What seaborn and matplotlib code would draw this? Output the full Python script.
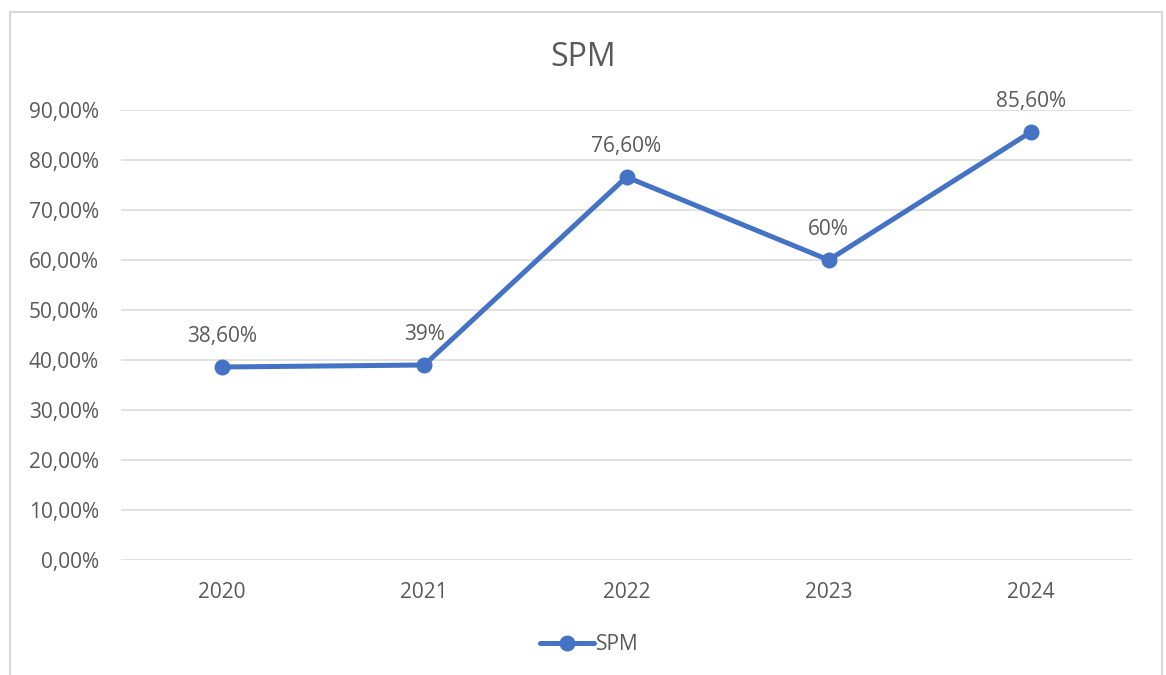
import matplotlib
matplotlib.use("Agg")
import matplotlib.pyplot as plt
import matplotlib.patches as mpatches
from matplotlib.lines import Line2D
from matplotlib.ticker import FuncFormatter, MultipleLocator
import seaborn as sns
import pandas as pd

years = ["2020", "2021", "2022", "2023", "2024"]
values = [38.6, 39.0, 76.6, 60.0, 85.6]
point_labels = ["38,60%", "39%", "76,60%", "60%", "85,60%"]
series_name = "SPM"
title = "SPM"

sns.set_theme(style="white")
plt.rcParams["font.family"] = ["Open Sans", "DejaVu Sans"]

TEXT = "#595959"
GRID = "#D9D9D9"
LINE = "#4472C4"

fig = plt.figure(figsize=(11.66, 6.75), dpi=100)
ax = fig.add_axes([121 / 1166, 1 - 560 / 675, (1132 - 121) / 1166, 450 / 675])

df = pd.DataFrame({"year": years, "value": values})
sns.lineplot(data=df, x="year", y="value", ax=ax, color=LINE, linewidth=3.6,
             marker="o", markersize=11.5, markeredgewidth=0, sort=False, legend=False)

ax.set_xlim(-0.5, len(years) - 0.5)
ax.set_ylim(0, 90)
ax.yaxis.set_major_locator(MultipleLocator(10))
ax.yaxis.set_major_formatter(FuncFormatter(lambda v, p: f"{v:.2f}%".replace(".", ",")))
ax.grid(axis="y", color=GRID, linewidth=1.1)
ax.set_axisbelow(True)
for s in ax.spines.values():
    s.set_visible(False)
ax.set_xlabel("")
ax.set_ylabel("")
ax.tick_params(axis="both", length=0, labelsize=15, labelcolor=TEXT)
ax.tick_params(axis="y", pad=16)
ax.tick_params(axis="x", pad=16)

for i, (v, lab) in enumerate(zip(values, point_labels)):
    ax.annotate(lab, (i, v), xytext=(0, 22), textcoords="offset points",
                ha="center", va="center", fontsize=15, color=TEXT)

fig.text(0.5, 1 - 57 / 675, title, ha="center", va="center", fontsize=23, color=TEXT)

handle = Line2D([], [], color=LINE, linewidth=3.6, marker="o", markersize=11.5,
                markeredgewidth=0)
fig.legend([handle], [series_name], loc="center", bbox_to_anchor=(589 / 1166, 1 - 645 / 675),
           frameon=False, fontsize=15, labelcolor=TEXT, handlelength=2.6,
           handletextpad=0.1)

border = mpatches.Rectangle((10 / 1166, -0.05), (1162 - 10) / 1166, 1.05 - 12 / 675,
                            transform=fig.transFigure, fill=False, edgecolor=GRID,
                            linewidth=1.5)
fig.patches.append(border)

fig.savefig("out.png", dpi=100, facecolor="white")
